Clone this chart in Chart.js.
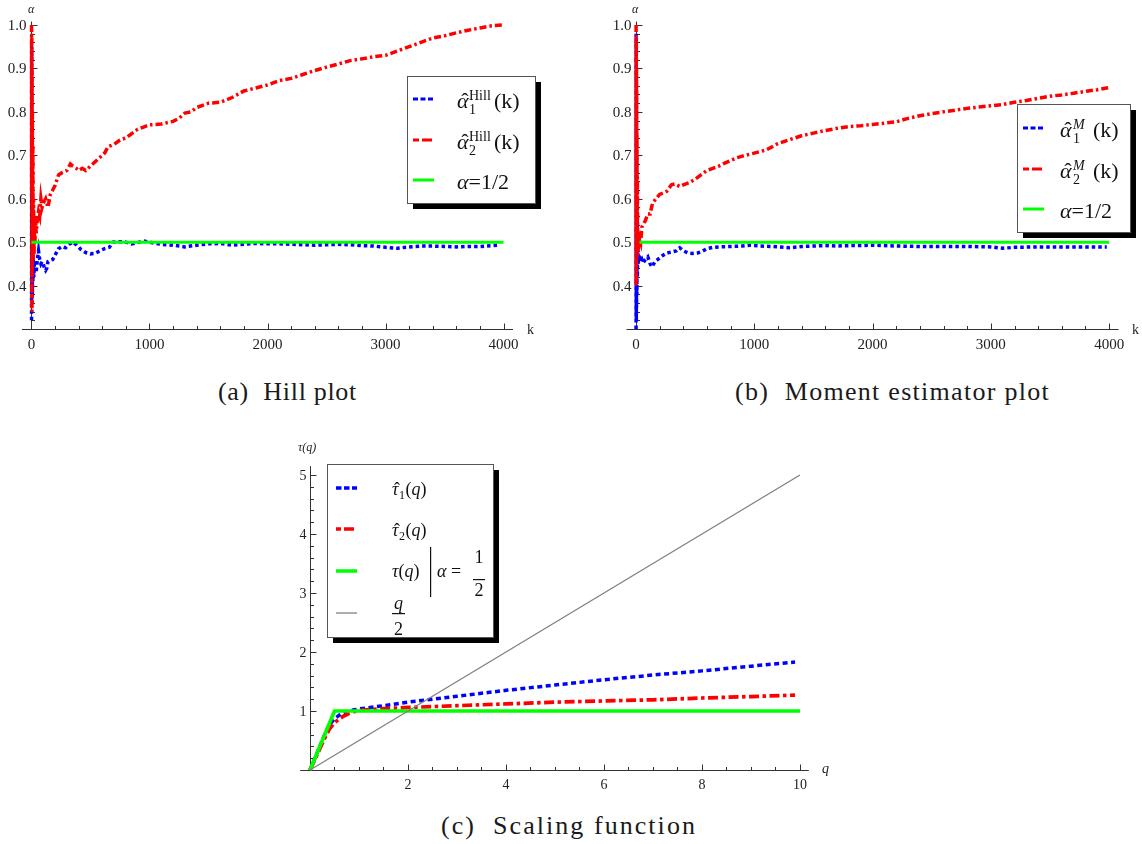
<!DOCTYPE html>
<html>
<head>
<meta charset="utf-8">
<script src="https://cdn.jsdelivr.net/npm/chart.js@4.4.1/dist/chart.umd.min.js"></script>
<style>
  html, body { margin: 0; padding: 0; background: #fff; }
  body { width: 1142px; height: 844px; position: relative; overflow: hidden; }
  canvas { position: absolute; }
  #hillCanvas { left: 0; top: 0; }
  #momentCanvas { left: 570px; top: 0; }
  #scalingCanvas { left: 250px; top: 440px; }
  .caption {
    position: absolute; white-space: nowrap;
    font-family: "Liberation Serif", serif; font-size: 26px; line-height: 30px;
    color: #1a1a1a;
  }
</style>
</head>
<body>
<canvas id="hillCanvas" width="560" height="350"></canvas>
<canvas id="momentCanvas" width="572" height="350"></canvas>
<canvas id="scalingCanvas" width="600" height="360"></canvas>
<div class="caption" data-left="218" data-right="357" style="top:377px">(a)&nbsp; Hill plot</div>
<div class="caption" data-left="735" data-right="1050" style="top:377px">(b)&nbsp; Moment estimator plot</div>
<div class="caption" data-left="441" data-right="697" style="top:811px">(c)&nbsp; Scaling function</div>
<script>
  'use strict';

  // ---- (a) Hill plot ----
  var hillK1 = [1, 2, 3, 4, 5, 6, 8, 10, 12, 15, 20, 25, 30, 35, 40, 50, 60, 70, 80, 90, 100, 110, 120, 130, 140, 160, 180, 200, 230, 260, 290, 320, 350, 380, 420, 460, 500, 540, 580, 620, 660, 690, 750, 800, 850, 900, 950, 1000, 1050, 1100, 1200, 1300, 1400, 1500, 1600, 1700, 1800, 1900, 2000, 2100, 2200, 2300, 2400, 2500, 2600, 2700, 2800, 2900, 3000, 3100, 3200, 3300, 3400, 3500, 3600, 3700, 3800, 3900, 3950];
  var hillAlpha1 = [0.32, 0.95, 0.40, 0.75, 0.36, 0.60, 0.38, 0.50, 0.41, 0.47, 0.42, 0.45, 0.43, 0.46, 0.43, 0.46, 0.48, 0.46, 0.45, 0.455, 0.45, 0.44, 0.435, 0.44, 0.455, 0.458, 0.46, 0.47, 0.485, 0.49, 0.487, 0.495, 0.50, 0.494, 0.483, 0.476, 0.473, 0.474, 0.48, 0.485, 0.488, 0.50, 0.501, 0.50, 0.496, 0.499, 0.503, 0.50, 0.497, 0.495, 0.493, 0.489, 0.493, 0.496, 0.497, 0.493, 0.495, 0.497, 0.496, 0.496, 0.495, 0.494, 0.493, 0.494, 0.495, 0.494, 0.492, 0.491, 0.488, 0.486, 0.489, 0.491, 0.491, 0.49, 0.489, 0.49, 0.49, 0.492, 0.493];
  var hillK2 = [1, 2, 3, 4, 5, 6, 8, 10, 12, 15, 18, 22, 26, 30, 35, 40, 50, 60, 70, 80, 90, 100, 120, 140, 160, 180, 200, 230, 260, 300, 330, 350, 380, 400, 430, 460, 500, 540, 580, 620, 650, 700, 750, 800, 850, 900, 950, 1000, 1100, 1200, 1250, 1300, 1350, 1400, 1500, 1600, 1700, 1800, 1900, 2000, 2100, 2200, 2300, 2400, 2500, 2600, 2700, 2800, 2900, 3000, 3100, 3200, 3300, 3400, 3500, 3600, 3700, 3800, 3900, 4000];
  var hillAlpha2 = [1.0, 0.62, 0.98, 0.34, 0.90, 0.42, 0.80, 0.50, 0.72, 0.46, 0.60, 0.47, 0.56, 0.50, 0.55, 0.52, 0.55, 0.57, 0.56, 0.60, 0.58, 0.59, 0.60, 0.58, 0.61, 0.62, 0.63, 0.655, 0.66, 0.665, 0.68, 0.675, 0.67, 0.665, 0.67, 0.665, 0.675, 0.685, 0.695, 0.705, 0.72, 0.725, 0.735, 0.74, 0.75, 0.76, 0.765, 0.77, 0.772, 0.778, 0.785, 0.797, 0.80, 0.81, 0.82, 0.822, 0.833, 0.848, 0.855, 0.862, 0.872, 0.877, 0.886, 0.895, 0.903, 0.91, 0.918, 0.922, 0.927, 0.93, 0.94, 0.95, 0.96, 0.97, 0.975, 0.982, 0.988, 0.993, 0.998, 1.0];
  var hillRefK = [0, 4000];
  var hillRefAlpha = [0.5, 0.5];

  // ---- (b) Moment estimator plot ----
  var momentK1 = [1, 2, 3, 4, 5, 6, 8, 10, 12, 15, 20, 25, 30, 40, 50, 60, 80, 100, 120, 135, 160, 180, 220, 260, 300, 340, 370, 400, 440, 480, 520, 560, 600, 650, 700, 800, 900, 960, 1050, 1150, 1250, 1300, 1400, 1500, 1600, 1700, 1800, 1900, 2000, 2100, 2200, 2400, 2600, 2800, 3000, 3100, 3200, 3400, 3600, 3800, 3980];
  var momentAlpha1 = [0.30, 0.98, 0.32, 0.85, 0.35, 0.70, 0.38, 0.60, 0.42, 0.50, 0.45, 0.47, 0.466, 0.455, 0.46, 0.452, 0.46, 0.466, 0.45, 0.443, 0.455, 0.459, 0.468, 0.475, 0.477, 0.48, 0.487, 0.48, 0.475, 0.474, 0.475, 0.479, 0.485, 0.488, 0.489, 0.49, 0.491, 0.493, 0.491, 0.49, 0.488, 0.487, 0.49, 0.491, 0.492, 0.491, 0.492, 0.492, 0.493, 0.492, 0.491, 0.49, 0.49, 0.49, 0.489, 0.486, 0.488, 0.489, 0.489, 0.489, 0.489];
  var momentK2 = [1, 2, 3, 4, 5, 6, 8, 10, 12, 15, 20, 25, 30, 40, 50, 60, 80, 100, 120, 140, 170, 200, 230, 260, 300, 330, 370, 400, 450, 500, 550, 600, 650, 700, 750, 800, 850, 900, 1000, 1100, 1200, 1300, 1400, 1500, 1600, 1700, 1800, 1900, 2000, 2100, 2200, 2300, 2400, 2500, 2600, 2700, 2800, 2900, 3000, 3100, 3200, 3300, 3400, 3500, 3600, 3700, 3800, 3900, 4000];
  var momentAlpha2 = [1.0, 0.40, 0.97, 0.50, 0.90, 0.48, 0.75, 0.50, 0.65, 0.48, 0.52, 0.50, 0.51, 0.50, 0.535, 0.54, 0.55, 0.565, 0.565, 0.59, 0.60, 0.61, 0.613, 0.617, 0.632, 0.634, 0.628, 0.632, 0.637, 0.645, 0.655, 0.665, 0.67, 0.675, 0.682, 0.688, 0.694, 0.698, 0.705, 0.712, 0.727, 0.736, 0.745, 0.751, 0.757, 0.762, 0.766, 0.768, 0.771, 0.774, 0.777, 0.785, 0.791, 0.796, 0.80, 0.804, 0.808, 0.811, 0.814, 0.817, 0.822, 0.826, 0.831, 0.836, 0.839, 0.843, 0.847, 0.851, 0.856];
  var momentRefK = [30, 4000];
  var momentRefAlpha = [0.5, 0.5];

  var alphaTicksX = [0, 1000, 2000, 3000, 4000];
  var alphaTicksY = [0.4, 0.5, 0.6, 0.7, 0.8, 0.9, 1.0];

  // ---- (c) Scaling function ----
  var scalingQ = [0, 0.1, 0.2, 0.3, 0.4, 0.5, 0.6, 0.7, 0.8, 0.9, 1, 1.5, 2, 3, 4, 5, 6, 7, 8, 9, 9.9];
  var scalingTau1 = [0, 0.2, 0.4, 0.6, 0.77, 0.87, 0.93, 0.97, 1.0, 1.02, 1.035, 1.09, 1.15, 1.25, 1.35, 1.44, 1.53, 1.61, 1.68, 1.76, 1.83];
  var scalingTau2 = [0, 0.18, 0.36, 0.54, 0.70, 0.80, 0.87, 0.92, 0.96, 0.99, 1.01, 1.04, 1.06, 1.09, 1.12, 1.15, 1.17, 1.19, 1.22, 1.245, 1.27];
  var exactQ = [0, 0.5, 10];
  var exactTau = [0, 1, 1];
  var halfQ = [0, 10];
  var halfTau = [0, 5];

  var scalingTicksX = [2, 4, 6, 8, 10];
  var scalingTicksY = [1, 2, 3, 4, 5];

  var SERIF = '"Liberation Serif", "Times New Roman", serif';
  var BLUE = '#0000ff', RED = '#ff0000', GREEN = '#00ff00', GRAY = '#808080';


  /**
   * one line dataset from two arrays
   */
  function lineSet(label, xs, ys, color, width, dash, order) {
    return {
      label: label,
      data: xs.map(function (x, i) { return {x: x, y: ys[i]}; }),
      borderColor: color,
      borderWidth: width,
      borderDash: dash,
      pointRadius: 0,
      fill: false,
      tension: 0,
      clip: false,
      order: order
    };
  }


  /**
   * Mathematica-like axes: crossing lines, inward ticks, labels
   */
  function mmaAxes(cfg) {
    return {
      id: 'mmaAxes',
      beforeDatasetsDraw: function (chart) {
        var ctx = chart.ctx, area = chart.chartArea;
        var xs = chart.scales.x, ys = chart.scales.y;
        var ox = Math.round(xs.getPixelForValue(0)) + 0.5;
        var oy = Math.round(ys.getPixelForValue(ys.min)) + 0.5;
        var i, v, p;

        ctx.save();
        ctx.strokeStyle = '#333';
        ctx.lineWidth = 1;
        ctx.beginPath();
        ctx.moveTo(area.left, oy); ctx.lineTo(area.right, oy);
        ctx.moveTo(ox, area.top); ctx.lineTo(ox, oy);

        // minor ticks
        for (i = Math.ceil(cfg.xFrom / cfg.xMinor); i * cfg.xMinor <= xs.max; i++) {
          p = Math.round(xs.getPixelForValue(i * cfg.xMinor)) + 0.5;
          ctx.moveTo(p, oy); ctx.lineTo(p, oy - 3.5);
        }
        for (i = Math.ceil(ys.min / cfg.yMinor - 1e-6); i * cfg.yMinor <= ys.max + 1e-9; i++) {
          p = Math.round(ys.getPixelForValue(i * cfg.yMinor)) + 0.5;
          ctx.moveTo(ox, p); ctx.lineTo(ox + 3.5, p);
        }
        // major ticks
        cfg.xTicks.forEach(function (t) {
          p = Math.round(xs.getPixelForValue(t)) + 0.5;
          ctx.moveTo(p, oy); ctx.lineTo(p, oy - 6);
        });
        cfg.yTicks.forEach(function (t) {
          p = Math.round(ys.getPixelForValue(t)) + 0.5;
          ctx.moveTo(ox, p); ctx.lineTo(ox + 6, p);
        });
        ctx.stroke();

        // tick labels
        ctx.fillStyle = '#222';
        ctx.font = cfg.tickSize + 'px ' + SERIF;
        ctx.textBaseline = 'alphabetic';
        ctx.textAlign = 'center';
        cfg.xTicks.forEach(function (t) {
          ctx.fillText(String(t), xs.getPixelForValue(t), oy + cfg.xLabelDrop);
        });
        ctx.textAlign = 'right';
        cfg.yTicks.forEach(function (t) {
          v = cfg.yDecimals ? t.toFixed(cfg.yDecimals) : String(t);
          ctx.fillText(v, ox - cfg.yLabelGap, ys.getPixelForValue(t) + cfg.yLabelShift);
        });

        // axis names
        ctx.textAlign = 'left';
        cfg.names.forEach(function (n) {
          ctx.font = n.font;
          ctx.fillText(n.text, n.x, n.y);
        });
        ctx.restore();
      }
    };
  }


  /**
   * helpers for the framed legends
   */
  function drawFrame(ctx, l, t, r, b) {
    ctx.fillStyle = '#000';
    ctx.fillRect(l + 6, t + 6, r - l, b - t);
    ctx.fillStyle = '#fff';
    ctx.fillRect(l, t, r - l, b - t);
    ctx.strokeStyle = '#555';
    ctx.lineWidth = 1;
    ctx.strokeRect(l + 0.5, t + 0.5, r - l, b - t);
  }

  function drawSample(ctx, x1, x2, y, color, width, dash) {
    ctx.save();
    ctx.strokeStyle = color;
    ctx.lineWidth = width;
    ctx.setLineDash(dash);
    ctx.beginPath();
    ctx.moveTo(x1, y); ctx.lineTo(x2, y);
    ctx.stroke();
    ctx.restore();
  }

  function drawRuns(ctx, x, base, parts) {
    parts.forEach(function (p) {
      ctx.font = p[1];
      ctx.fillText(p[0], x, base);
      x += ctx.measureText(p[0]).width;
    });
    return x;
  }

  function hatLetter(ctx, ch, x, base, size) {
    ctx.font = 'italic ' + size + 'px ' + SERIF;
    ctx.textAlign = 'left';
    ctx.fillText(ch, x, base);
    var w = ctx.measureText(ch).width;
    ctx.font = size + 'px ' + SERIF;
    ctx.textAlign = 'center';
    ctx.fillText('\u02C6', x + w / 2 + size * 0.1, base);
    ctx.textAlign = 'left';
    return w;
  }

  function fraction(ctx, cx, top, num, den, size, italicNum) {
    ctx.textAlign = 'center';
    ctx.font = (italicNum ? 'italic ' : '') + size + 'px ' + SERIF;
    ctx.fillText(num, cx, top.num);
    ctx.font = size + 'px ' + SERIF;
    ctx.fillText(den, cx, top.den);
    ctx.fillRect(cx - top.half, top.bar, top.half * 2, 1.2);
    ctx.textAlign = 'left';
  }


  /**
   * legend for the alpha estimator plots (page coordinates minus canvas offset)
   */
  function alphaLegend(dx, box, rows, sampleX, textX, supText, supItalic, stackGap, parenX) {
    return {
      id: 'alphaLegend',
      afterDatasetsDraw: function (chart) {
        var ctx = chart.ctx;
        ctx.save();
        ctx.translate(-dx, 0);
        drawFrame(ctx, box[0], box[1], box[2], box[3]);
        ctx.textBaseline = 'alphabetic';
        var main = 22, small = 14;
        rows.forEach(function (y, i) {
          var base = y + 9;
          if (i === 0) drawSample(ctx, sampleX, sampleX + 21, y, BLUE, 3, [5, 2.5]);
          if (i === 1) drawSample(ctx, sampleX, sampleX + 21, y, RED, 3, [6, 3, 10, 3]);
          if (i === 2) drawSample(ctx, sampleX, sampleX + 21, y, GREEN, 3, []);
          ctx.fillStyle = '#111';
          if (i < 2) {
            hatLetter(ctx, '\u03B1', textX, base, main);
            ctx.font = (supItalic ? 'italic ' : '') + small + 'px ' + SERIF;
            ctx.fillText(supText, textX + stackGap, base - 8);
            ctx.font = small + 'px ' + SERIF;
            ctx.fillText(String(i + 1), textX + stackGap, base + 6);
            ctx.font = main + 'px ' + SERIF;
            ctx.fillText('(k)', parenX, base);
          } else {
            drawRuns(ctx, textX, base, [['\u03B1', 'italic ' + main + 'px ' + SERIF], ['=1/2', main + 'px ' + SERIF]]);
          }
        });
        ctx.restore();
      }
    };
  }


  /**
   * legend for the scaling function plot
   */
  var scalingLegend = {
    id: 'scalingLegend',
    afterDatasetsDraw: function (chart) {
      var ctx = chart.ctx;
      var it = 'italic 18px ' + SERIF, up = '18px ' + SERIF;
      ctx.save();
      ctx.translate(-250, -440);
      drawFrame(ctx, 327, 464, 493, 637);
      ctx.textBaseline = 'alphabetic';
      drawSample(ctx, 336, 357, 488, BLUE, 3.5, [5.5, 2.5]);
      drawSample(ctx, 336, 357, 529, RED, 3.5, [5, 3, 10, 3]);
      drawSample(ctx, 336, 357, 571, GREEN, 3.5, []);
      drawSample(ctx, 336, 357, 613, GRAY, 1.3, []);
      ctx.fillStyle = '#111';

      [[495, '1'], [536, '2']].forEach(function (r) {
        var w = hatLetter(ctx, '\u03C4', 392, r[0], 18);
        ctx.font = '12px ' + SERIF;
        ctx.fillText(r[1], 392 + w + 0.5, r[0] + 4);
        drawRuns(ctx, 392 + w + 7, r[0], [['(', up], ['q', it], [')', up]]);
      });

      drawRuns(ctx, 392, 577, [['\u03C4', it], ['(', up], ['q', it], [')', up]]);
      ctx.fillRect(430, 547, 1.2, 50);
      drawRuns(ctx, 437, 577, [['\u03B1', it], [' = ', up]]);
      fraction(ctx, 479, {num: 563, den: 596, bar: 579, half: 6}, '1', '2', 18, false);
      fraction(ctx, 398.5, {num: 609, den: 635, bar: 613, half: 6.5}, 'q', '2', 18, true);
      ctx.restore();
    }
  };


  /**
   * Draw the graphs
   */
  function baseOptions(padding, xMin, xMax, yMin, yMax) {
    return {
      responsive: false,
      animation: false,
      devicePixelRatio: 1,
      layout: {padding: padding},
      plugins: {legend: {display: false}, tooltip: {enabled: false}},
      scales: {
        x: {type: 'linear', display: false, min: xMin, max: xMax},
        y: {type: 'linear', display: false, min: yMin, max: yMax}
      }
    };
  }

  new Chart(document.getElementById('hillCanvas').getContext('2d'), {
    type: 'line',
    data: {
      datasets: [
        lineSet('alpha1 Hill', hillK1, hillAlpha1, BLUE, 3.5, [3.5, 3], 3),
        lineSet('alpha2 Hill', hillK2, hillAlpha2, RED, 3.5, [7, 3, 2.5, 3], 2),
        lineSet('alpha=1/2', hillRefK, hillRefAlpha, GREEN, 3, [], 1)
      ]
    },
    options: baseOptions({left: 22, right: 47, top: 21.5, bottom: 21}, -80, 4080, 0.3, 1.008),
    plugins: [
      mmaAxes({
        xTicks: alphaTicksX, yTicks: alphaTicksY, xMinor: 200, yMinor: 0.02, xFrom: 0,
        tickSize: 15, xLabelDrop: 19, yLabelGap: 5, yLabelShift: 5, yDecimals: 1,
        names: [
          {text: '\u03B1', font: 'italic 12px ' + SERIF, x: 28, y: 13},
          {text: 'k', font: '14px ' + SERIF, x: 527, y: 334}
        ]
      }),
      alphaLegend(0, [407, 76, 535, 203], [99, 140, 180], 413, 457, 'Hill', false, 12, 494)
    ]
  });

  new Chart(document.getElementById('momentCanvas').getContext('2d'), {
    type: 'line',
    data: {
      datasets: [
        lineSet('alpha1 M', momentK1, momentAlpha1, BLUE, 3.5, [3.5, 3], 3),
        lineSet('alpha2 M', momentK2, momentAlpha2, RED, 3.5, [7, 3, 2.5, 3], 2),
        lineSet('alpha=1/2', momentRefK, momentRefAlpha, GREEN, 3, [], 1)
      ]
    },
    options: baseOptions({left: 56.5, right: 23.4, top: 21.5, bottom: 21}, -80, 4080, 0.3, 1.008),
    plugins: [
      mmaAxes({
        xTicks: alphaTicksX, yTicks: alphaTicksY, xMinor: 200, yMinor: 0.02, xFrom: 0,
        tickSize: 15, xLabelDrop: 19, yLabelGap: 5, yLabelShift: 5, yDecimals: 1,
        names: [
          {text: '\u03B1', font: 'italic 12px ' + SERIF, x: 632 - 570, y: 13},
          {text: 'k', font: '14px ' + SERIF, x: 1132 - 570, y: 334}
        ]
      }),
      alphaLegend(570, [1017, 104, 1130, 232], [128, 169, 209], 1023, 1060, 'M', true, 13, 1093)
    ]
  });

  new Chart(document.getElementById('scalingCanvas').getContext('2d'), {
    type: 'line',
    data: {
      datasets: [
        lineSet('tau1', scalingQ, scalingTau1, BLUE, 3.5, [5, 3.5], 4),
        lineSet('tau2', scalingQ, scalingTau2, RED, 3.7, [10, 3.5, 3.5, 3.5], 3),
        lineSet('tau alpha=1/2', exactQ, exactTau, GREEN, 3.7, [], 2),
        lineSet('q/2', halfQ, halfTau, GRAY, 1.3, [], 1)
      ]
    },
    options: baseOptions({left: 50.2, right: 41.2, top: 26.15, bottom: 30}, -0.2, 10.18, 0, 5.15),
    plugins: [
      mmaAxes({
        xTicks: scalingTicksX, yTicks: scalingTicksY, xMinor: 0.5, yMinor: 0.2, xFrom: 0,
        tickSize: 14, xLabelDrop: 18, yLabelGap: 4, yLabelShift: 5, yDecimals: 0,
        names: [
          {text: '\u03C4(q)', font: 'italic 12px ' + SERIF, x: 298 - 250, y: 451 - 440},
          {text: 'q', font: 'italic 14px ' + SERIF, x: 822 - 250, y: 773 - 440}
        ]
      }),
      scalingLegend
    ]
  });

  // stretch captions to the widths they take in the figure
  Array.prototype.forEach.call(document.querySelectorAll('.caption'), function (el) {
    var left = +el.getAttribute('data-left'), right = +el.getAttribute('data-right');
    var chars = el.textContent.length;
    var natural = el.getBoundingClientRect().width;
    el.style.letterSpacing = ((right - left - natural) / chars) + 'px';
    el.style.left = left + 'px';
  });
</script>
</body>
</html>
